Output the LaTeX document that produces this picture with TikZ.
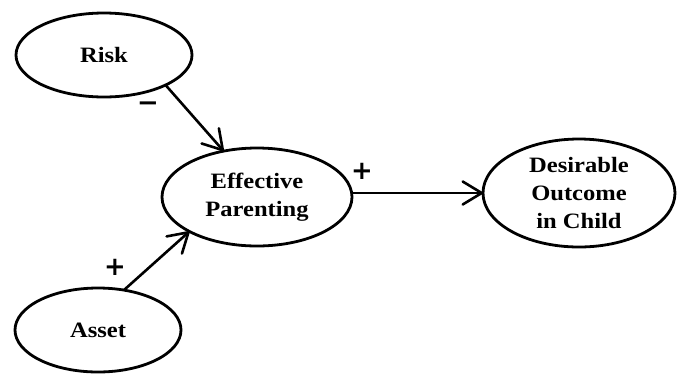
\documentclass[tikz,border=0pt]{standalone}
\usepackage{fontspec}
\setmainfont{Liberation Serif}[FakeStretch=1.12]
\newfontfamily\signfont{DejaVu Sans}
\usetikzlibrary{arrows.meta,shapes.geometric}
\begin{document}
\begin{tikzpicture}[x=1bp,y=-1bp,
  el/.style={draw,line width=2.8bp,ellipse,inner sep=0pt,outer sep=0pt},
  lbl/.style={font=\bfseries\fontsize{22}{28}\selectfont,align=center,inner sep=0pt},
  sign/.style={font=\signfont\bfseries\fontsize{26}{28}\selectfont,inner sep=0pt},
  tip/.tip={Straight Barb[length=19bp,width=23bp,line width=2.6bp,line cap=round,line join=round]},
  conn/.style={line width=2.6bp,-tip}]
\useasboundingbox (0,0) rectangle (678,376);
\node[el,minimum width=176bp,minimum height=84bp] (risk) at (104,55) {};
\node[lbl] (risktxt) at (risk) {Risk};
\node[el,minimum width=190bp,minimum height=98bp] (par) at (257,197) {};
\node[lbl] (partxt) at (par) {Effective\\Parenting};
\node[el,minimum width=192bp,minimum height=108bp] (out) at (579,193) {};
\node[lbl] (outtxt) at (out) {Desirable\\Outcome\\in Child};
\node[el,minimum width=166bp,minimum height=84bp] (asset) at (98,330) {};
\node[lbl] (assettxt) at (asset) {Asset};
\draw[conn] (risk.-26) -- (par.126);
\draw[conn] (asset.57) -- (par.-153);
\draw[conn] (par.east |- out.west) -- (out.west);
\node[sign] (m) at (148,107) {−};
\node[sign] (pa) at (115,267) {+};
\node[sign] (pp) at (362,171) {+};
\end{tikzpicture}
\end{document}
